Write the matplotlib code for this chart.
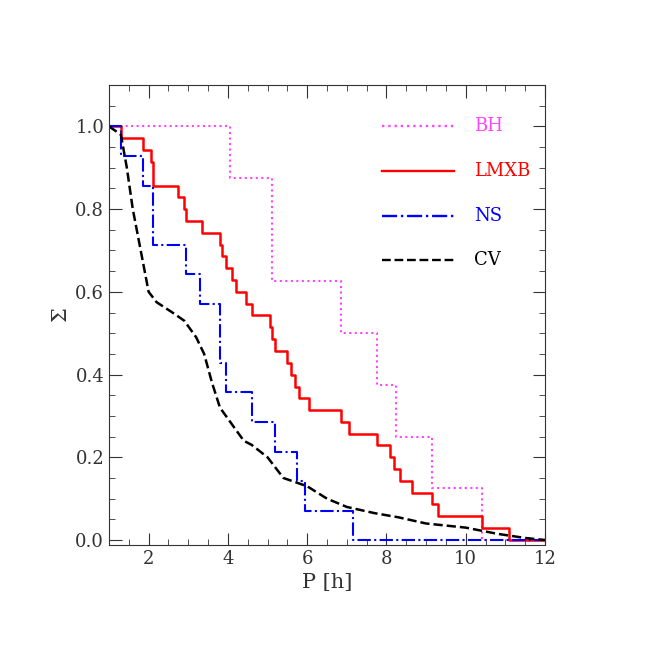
import numpy as np
import matplotlib
matplotlib.use("Agg")
import matplotlib.pyplot as plt
from matplotlib.ticker import MultipleLocator

plt.rcParams["font.family"] = ["DejaVu Serif"]

# step curves: period where the step drops, level after the drop
bh_p = [1.0, 4.05, 5.1, 6.85, 7.75, 8.25, 9.15, 10.4, 12.0]
bh_s = [1.0, 0.875, 0.625, 0.5, 0.375, 0.25, 0.125, 0.0, 0.0]

ns_p = [1.0, 1.3, 1.85, 2.1, 2.95, 3.3, 3.8, 3.95, 4.6, 5.2, 5.75, 5.95, 7.15, 12.0]
ns_s = [1.0, 0.929, 0.857, 0.714, 0.643, 0.571, 0.429, 0.357, 0.286, 0.214, 0.143, 0.071, 0.0, 0.0]

lmxb_p = [1.0, 1.3, 1.85, 2.05, 2.1, 2.75, 2.9, 2.95, 3.35, 3.8, 3.85, 3.95, 4.1, 4.2,
          4.45, 4.6, 5.05, 5.1, 5.2, 5.5, 5.6, 5.7, 5.8, 6.05, 6.85, 7.05, 7.75, 8.1,
          8.2, 8.35, 8.65, 9.15, 9.3, 10.4, 11.1, 12.0]
lmxb_s = [1.0, 0.971, 0.943, 0.914, 0.857, 0.829, 0.8, 0.771, 0.743, 0.714, 0.686,
          0.657, 0.629, 0.6, 0.571, 0.543, 0.514, 0.486, 0.457, 0.429, 0.4, 0.371,
          0.343, 0.314, 0.286, 0.257, 0.229, 0.2, 0.171, 0.143, 0.114, 0.086, 0.057,
          0.029, 0.0, 0.0]

cv_p = [1.0, 1.3, 1.45, 1.6, 1.8, 2.0, 2.2, 2.6, 2.9, 3.2, 3.4, 3.6, 3.8, 4.1, 4.4,
        4.6, 5.0, 5.4, 6.0, 6.5, 7.0, 7.7, 8.3, 9.0, 10.0, 10.8, 11.5, 12.0]
cv_s = [1.0, 0.98, 0.9, 0.8, 0.7, 0.6, 0.575, 0.55, 0.53, 0.49, 0.45, 0.38, 0.32,
        0.28, 0.24, 0.23, 0.2, 0.15, 0.13, 0.1, 0.08, 0.065, 0.055, 0.04, 0.03,
        0.015, 0.005, 0.0]

fig = plt.figure(figsize=(6.54, 6.54), dpi=100)
ax = fig.add_axes([109 / 654, 1 - 545 / 654, 436 / 654, 460 / 654])

ax.step(bh_p, bh_s, where="post", color="#ff44ff", ls=":", lw=1.5)
ax.step(lmxb_p, lmxb_s, where="post", color="red", ls="-", lw=1.8)
ax.step(ns_p, ns_s, where="post", color="blue", ls="-.", lw=1.5)
ax.plot(cv_p, cv_s, color="black", ls="--", lw=1.8)

# legend drawn by hand: line sample + coloured label
legend = [("BH", "#ff44ff", ":"), ("LMXB", "red", "-"), ("NS", "blue", "-."), ("CV", "black", "--")]
for i, (name, col, ls) in enumerate(legend):
    y = 1.0 - i * 0.108
    ax.plot([7.9, 9.7], [y, y], color=col, ls=ls, lw=1.7)
    ax.text(10.2, y, name, color=col, va="center", fontsize=13)

ax.set_xlim(1, 12)
ax.set_ylim(-0.012, 1.1)
ax.xaxis.set_major_locator(MultipleLocator(2))
ax.xaxis.set_minor_locator(MultipleLocator(0.5))
ax.yaxis.set_major_locator(MultipleLocator(0.2))
ax.yaxis.set_minor_locator(MultipleLocator(0.05))
ax.tick_params(which="both", direction="in", top=True, right=True, labelsize=13,
               colors="#333333")
ax.tick_params(which="major", length=9)
ax.tick_params(which="minor", length=4)
ax.set_xlabel("P [h]", fontsize=15, color="#333333")
ax.set_ylabel("Σ", fontsize=15, color="#333333")
for s in ax.spines.values():
    s.set_color("#333333")

fig.savefig("out.png", dpi=100)
